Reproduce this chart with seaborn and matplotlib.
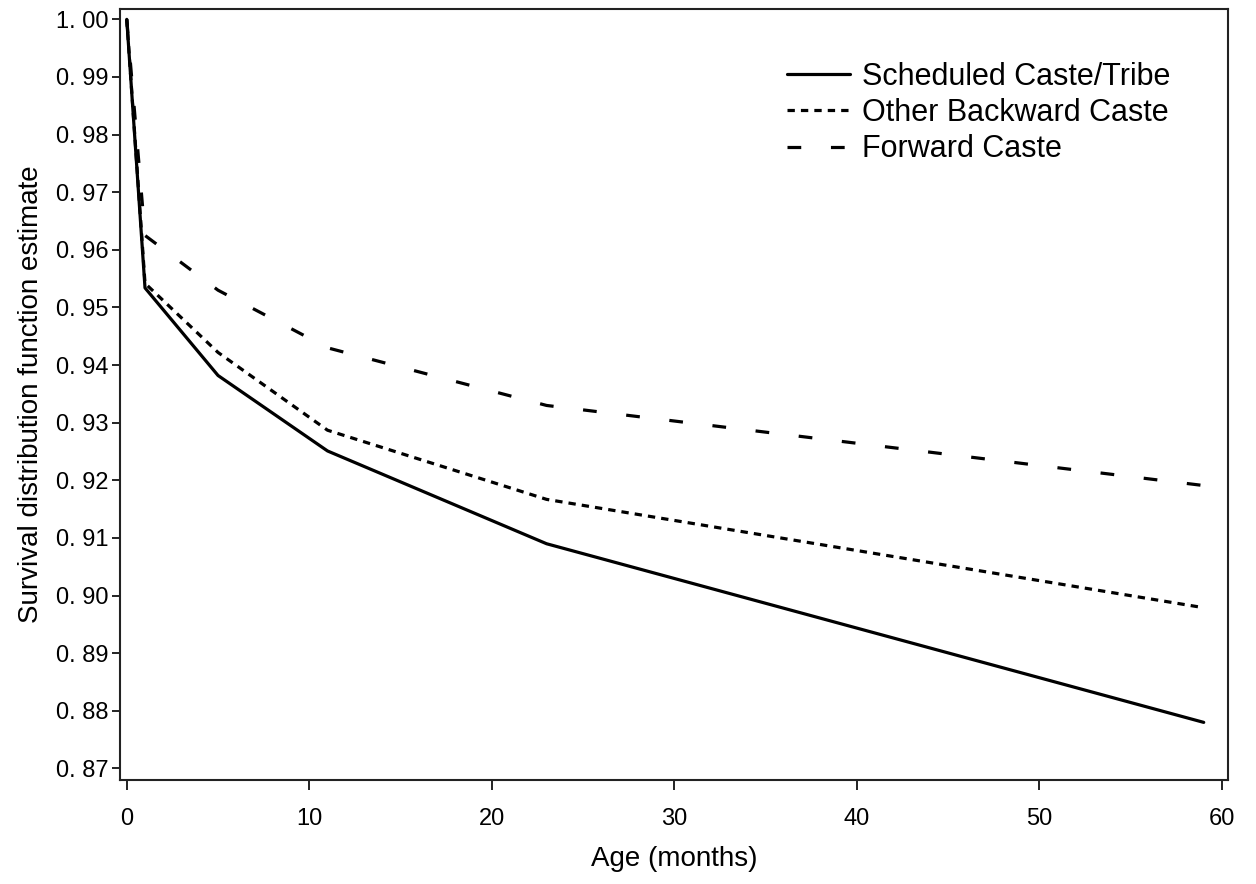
import pandas as pd
import numpy as np
import matplotlib
matplotlib.use('Agg')
import matplotlib.pyplot as plt
import seaborn as sns

# Datos (estimaciones de supervivencia por tabla de vida)
edad_meses = [0, 1, 5, 11, 23, 59]
sc_st = [1.0, 0.9534, 0.9382, 0.9251, 0.9090, 0.8780]
obc = [1.0, 0.9542, 0.9422, 0.9287, 0.9167, 0.8979]
forward = [1.0, 0.9625, 0.9530, 0.9430, 0.9330, 0.9191]

grupos = ['Scheduled Caste/Tribe', 'Other Backward Caste', 'Forward Caste']
y_ticks = [0.87, 0.88, 0.89, 0.90, 0.91, 0.92, 0.93, 0.94, 0.95, 0.96, 0.97, 0.98, 0.99, 1.00]
x_ticks = [0, 10, 20, 30, 40, 50, 60]

# Formato largo para seaborn
df = pd.DataFrame({
    'Edad': edad_meses * 3,
    'Supervivencia': sc_st + obc + forward,
    'Grupo': [grupos[0]] * len(edad_meses) + [grupos[1]] * len(edad_meses) + [grupos[2]] * len(edad_meses),
})

sns.set_style('ticks')
plt.rcParams['font.family'] = ['Liberation Sans', 'DejaVu Sans']
plt.rcParams['text.color'] = 'black'
plt.rcParams['axes.labelcolor'] = 'black'
plt.rcParams['xtick.color'] = 'black'
plt.rcParams['ytick.color'] = 'black'

fig = plt.figure(figsize=(12.56, 8.84), dpi=100)
ax = fig.add_axes([120 / 1256, 1 - 780 / 884, 1108 / 1256, 771 / 884])

lw = 2.3
estilos = {
    grupos[0]: '',
    grupos[1]: (2.3, 1.9),
    grupos[2]: (4.3, 9.3),
}
sns.lineplot(data=df, x='Edad', y='Supervivencia', hue='Grupo', style='Grupo',
             palette=['black'] * 3, dashes=estilos, linewidth=lw, ax=ax,
             legend=True)

ax.set_xlim(-0.37, 60.33)
ax.set_ylim(0.868, 1.0018)
ax.set_xticks(x_ticks)
ax.set_xticklabels([str(t) for t in x_ticks], fontsize=17)
ax.set_yticks(y_ticks)
ax.set_yticklabels([f'{t:.2f}'.replace('.', '. ') for t in y_ticks], fontsize=17)
ax.tick_params(axis='x', length=7.5, width=1.4, pad=13, color='#222222')
ax.tick_params(axis='y', length=6, width=1.4, pad=2.5, color='#222222')

for lado in ['top', 'right', 'bottom', 'left']:
    ax.spines[lado].set_visible(True)
    ax.spines[lado].set_linewidth(1.5)
    ax.spines[lado].set_color('#222222')

ax.set_xlabel('Age (months)', fontsize=20, labelpad=11)
ax.set_ylabel('Survival distribution function estimate', fontsize=20, labelpad=8)

leg = ax.legend(loc='upper left', bbox_to_anchor=(787 / 1256, 1 - 62 / 884),
                bbox_transform=fig.transFigure, frameon=False, fontsize=22,
                handlelength=2.05, handletextpad=0.4, labelspacing=0.2,
                borderpad=0, borderaxespad=0)
for linea in leg.get_lines():
    linea.set_linewidth(lw)

fig.savefig('out.png', dpi=100)
